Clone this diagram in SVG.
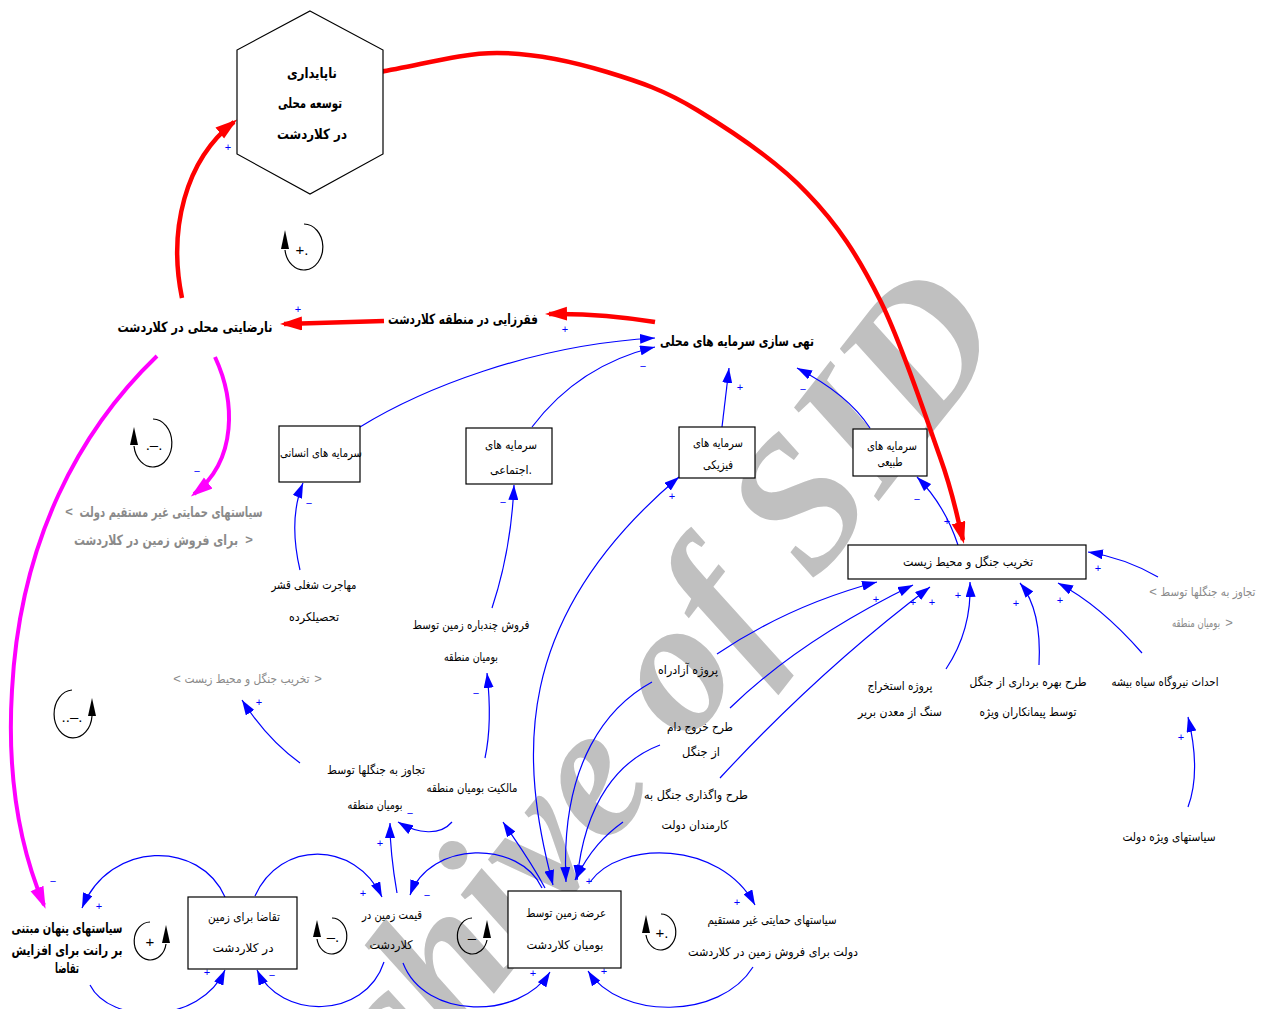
<svg xmlns="http://www.w3.org/2000/svg" width="1262" height="1009" viewBox="0 0 1262 1009">
<style>
.t{font-family:"DejaVu Sans",sans-serif;font-size:12px;fill:#000;text-anchor:middle;dominant-baseline:central}
.b{font-weight:bold;font-size:14px}
.g{fill:#8a8a8a}
.br{font-family:"Liberation Sans",sans-serif;font-size:13px;fill:#8a8a8a;text-anchor:middle;dominant-baseline:central}
.pol{font-family:"Liberation Sans",sans-serif;font-size:11px;fill:#00f;text-anchor:middle;dominant-baseline:central}
.blue{fill:none;stroke:#00f;stroke-width:1.2}
.red{fill:none;stroke:#f00;stroke-width:4.5}
.mag{fill:none;stroke:#f0f;stroke-width:4}
.box{fill:#fff;stroke:#000;stroke-width:1.2}
.loop{fill:none;stroke:#000;stroke-width:1.2}
.lt{font-family:"Liberation Sans",sans-serif;font-size:15px;fill:#000;text-anchor:middle;dominant-baseline:central}
.wm{font-family:"Liberation Serif",serif;font-style:italic;font-weight:bold;font-size:190px;fill:#c0c0c0}
</style>
<defs>
<marker id="ab" markerWidth="16" markerHeight="10" refX="15" refY="5" orient="auto" markerUnits="userSpaceOnUse"><path d="M0,0 L15,5 L0,10 z" fill="#00f"/></marker>
<marker id="abs" markerWidth="16" markerHeight="10" refX="15" refY="5" orient="auto-start-reverse" markerUnits="userSpaceOnUse"><path d="M0,0 L15,5 L0,10 z" fill="#00f"/></marker>
<marker id="ar" markerWidth="23" markerHeight="15" refX="18" refY="7" orient="auto" markerUnits="userSpaceOnUse"><path d="M0,0 L22,7 L0,14 z" fill="#f00"/></marker>
<marker id="am" markerWidth="23" markerHeight="15" refX="18" refY="7" orient="auto" markerUnits="userSpaceOnUse"><path d="M0,0 L22,7 L0,14 z" fill="#f0f"/></marker>
</defs>
<rect width="1262" height="1009" fill="#fff"/>
<text class="wm" transform="translate(282,1265) rotate(-52)">Archive of SID</text>

<g id="connectors">
<path class="red" marker-end="url(#ar)" d="M379,72 C418,66 459,53 497,53 C535,53 574,62 607,72 C640,82 664,90 697,110 C730,130 777,161 807,193 C838,225 858,256 880,300 C902,344 926,418 940,457 C954,496 956,513 963,540"/>
<path class="red" marker-end="url(#ar)" d="M182,298 C168,230 185,160 234,122"/>
<path class="red" marker-end="url(#ar)" d="M384,321 L284,324"/>
<path class="red" marker-end="url(#ar)" d="M655,322 Q600,313 549,314"/>
<path class="mag" marker-end="url(#am)" d="M215,357 C235,400 238,460 194,494"/>
<path class="mag" marker-end="url(#am)" d="M157,356 C80,430 20,540 12,690 C6,790 25,860 44,905"/>
<path class="blue" marker-end="url(#ab)" d="M360,427 C420,390 530,345 655,338"/>
<path class="blue" marker-end="url(#ab)" d="M532,427 C560,390 600,360 655,347"/>
<path class="blue" marker-end="url(#ab)" d="M722,427 L729,368"/>
<path class="blue" marker-end="url(#ab)" d="M870,428 C855,405 830,385 797,368"/>
<path class="blue" marker-end="url(#ab)" d="M958,545 C948,515 935,495 917,477"/>
<path class="blue" marker-end="url(#ab)" d="M300,570 C293,540 292,510 303,483"/>
<path class="blue" marker-end="url(#ab)" d="M492,608 C503,575 512,530 514,485"/>
<path class="blue" marker-end="url(#ab)" d="M485,758 C491,730 490,700 487,673"/>
<path class="blue" marker-end="url(#ab)" d="M300,763 C275,745 258,725 242,700"/>
<path class="blue" marker-end="url(#ab)" d="M452,822 C440,836 418,834 398,822"/>
<path class="blue" marker-end="url(#ab)" d="M397,893 C393,870 390,845 390,823"/>
<path class="blue" marker-end="url(#ab)" d="M545,888 C530,860 515,840 503,822"/>
<path class="blue" marker-start="url(#abs)" marker-end="url(#ab)" d="M553,885 C520,760 510,620 679,477"/>
<path class="blue" marker-end="url(#ab)" d="M652,682 C610,705 560,760 566,882"/>
<path class="blue" marker-end="url(#ab)" d="M660,745 C620,760 585,800 577,880"/>
<path class="blue" marker-end="url(#ab)" d="M623,822 C605,835 590,850 575,880"/>
<path class="blue" marker-end="url(#ab)" d="M717,654 Q790,605 877,582"/>
<path class="blue" marker-end="url(#ab)" d="M730,708 Q800,640 913,585"/>
<path class="blue" marker-end="url(#ab)" d="M720,778 Q820,670 930,587"/>
<path class="blue" marker-end="url(#ab)" d="M946,669 Q972,630 970,582"/>
<path class="blue" marker-end="url(#ab)" d="M1039,665 Q1042,610 1020,583"/>
<path class="blue" marker-end="url(#ab)" d="M1142,653 Q1100,605 1058,583"/>
<path class="blue" marker-end="url(#ab)" d="M1158,577 Q1125,558 1088,552"/>
<path class="blue" marker-end="url(#ab)" d="M1188,807 C1198,780 1196,750 1188,717"/>
<path class="blue" marker-end="url(#ab)" d="M225,897 C200,840 110,840 82,908"/>
<path class="blue" marker-end="url(#ab)" d="M255,896 C280,840 355,840 382,897"/>
<path class="blue" marker-end="url(#ab)" d="M542,888 C520,840 430,840 410,895"/>
<path class="blue" marker-end="url(#ab)" d="M90,985 C110,1025 200,1025 225,970"/>
<path class="blue" marker-end="url(#ab)" d="M384,962 C365,1020 280,1020 257,970"/>
<path class="blue" marker-end="url(#ab)" d="M403,963 C425,1020 520,1020 550,972"/>
<path class="blue" marker-end="url(#ab)" d="M753,967 C720,1020 620,1020 588,971"/>
<path class="blue" marker-end="url(#ab)" d="M590,882 C620,840 720,840 755,905"/>
</g>

<g id="polarities">
<text class="pol" x="228" y="147">+</text>
<text class="pol" x="298" y="309">+</text>
<text class="pol" x="565" y="329">+</text>
<text class="pol" x="197" y="471">−</text>
<text class="pol" x="53" y="881">−</text>
<text class="pol" x="643" y="366">−</text>
<text class="pol" x="740" y="387">+</text>
<text class="pol" x="803" y="389">−</text>
<text class="pol" x="917" y="499">−</text>
<text class="pol" x="947" y="521">+</text>
<text class="pol" x="309" y="503">−</text>
<text class="pol" x="503" y="502">−</text>
<text class="pol" x="672" y="496">+</text>
<text class="pol" x="476" y="693">−</text>
<text class="pol" x="259" y="702">+</text>
<text class="pol" x="410" y="813">−</text>
<text class="pol" x="380" y="843">+</text>
<text class="pol" x="876" y="599">+</text>
<text class="pol" x="913" y="602">+</text>
<text class="pol" x="932" y="602">+</text>
<text class="pol" x="958" y="595">+</text>
<text class="pol" x="1016" y="603">+</text>
<text class="pol" x="1060" y="600">+</text>
<text class="pol" x="1098" y="568">+</text>
<text class="pol" x="1181" y="737">+</text>
<text class="pol" x="99" y="906">+</text>
<text class="pol" x="363" y="893">+</text>
<text class="pol" x="427" y="895">−</text>
<text class="pol" x="207" y="972">+</text>
<text class="pol" x="272" y="975">−</text>
<text class="pol" x="533" y="973">+</text>
<text class="pol" x="604" y="971">+</text>
<text class="pol" x="737" y="902">+</text>
<text class="pol" x="589" y="881">+</text>
<text class="pol" x="566" y="869">+</text>
</g>

<g id="loops">
<g id="loop1"><path class="loop" d="M304,224 A19,23 0 1 1 285,250"/><path d="M285,230 L281,249 L289,249 z"/><text class="lt" x="302" y="249">+.</text></g>
<g id="loop2"><path class="loop" d="M153,419 A19,24 0 1 1 134,446"/><path d="M134,427 L130,445 L138,445 z"/><text class="lt" x="154" y="444">.–.</text></g>
<g id="loop3"><path class="loop" d="M72,690 A19,24 0 1 0 92,716"/><path d="M92,698 L88,716 L96,716 z"/><text class="lt" x="72" y="716">..–.</text></g>
<g id="loop4"><path class="loop" d="M150,922 A16,19 0 1 0 166,944"/><path d="M166,925 L162,943 L170,943 z"/><text class="lt" x="150" y="941">+</text></g>
<g id="loop5"><path class="loop" d="M332,918 A15,18 0 1 1 317,939"/><path d="M317,920 L313,937 L321,937 z"/><text class="lt" x="333" y="936">–.</text></g>
<g id="loop6"><path class="loop" d="M472,918 A15,18 0 1 0 487,940"/><path d="M487,920 L483,938 L491,938 z"/><text class="lt" x="472" y="937">–</text></g>
<g id="loop7"><path class="loop" d="M661,914 A15,18 0 1 1 646,935"/><path d="M646,915 L642,933 L650,933 z"/><text class="lt" x="662" y="932">+.</text></g>
</g>

<g id="n-hex"><polygon class="box" points="310,11 383,50 383,154 310,194 237,154 237,50"/>
<text class="t b" x="312" y="73" textLength="50" lengthAdjust="spacingAndGlyphs">ناپایداری</text><text class="t b" x="310" y="103" textLength="64" lengthAdjust="spacingAndGlyphs">توسعه محلی</text><text class="t b" x="312" y="134" textLength="70" lengthAdjust="spacingAndGlyphs">در کلاردشت</text></g>
<g id="n-narezayati"><text class="t b" x="195" y="327" textLength="155" lengthAdjust="spacingAndGlyphs">نارضایتی محلی در کلاردشت</text></g>
<g id="n-faghr"><text class="t b" x="463" y="319" textLength="150" lengthAdjust="spacingAndGlyphs">فقرزایی در منطقه کلاردشت</text></g>
<g id="n-tohi"><text class="t b" x="737" y="341" textLength="154" lengthAdjust="spacingAndGlyphs">تهی سازی سرمایه های محلی</text></g>
<g id="n-ensani"><rect class="box" x="279" y="426" width="81" height="56"/><text class="t" x="321" y="453" textLength="82" lengthAdjust="spacingAndGlyphs">سرمایه های انسانی</text></g>
<g id="n-ejtemai"><rect class="box" x="466" y="428" width="86" height="56"/><text class="t" x="511" y="445" textLength="52" lengthAdjust="spacingAndGlyphs">سرمایه های</text><text class="t" x="511" y="470" textLength="42" lengthAdjust="spacingAndGlyphs">اجتماعی.</text></g>
<g id="n-fiziki"><rect class="box" x="679" y="427" width="76" height="51"/><text class="t" x="718" y="443" textLength="50" lengthAdjust="spacingAndGlyphs">سرمایه های</text><text class="t" x="718" y="465" textLength="30" lengthAdjust="spacingAndGlyphs">فیزیکی</text></g>
<g id="n-tabiei"><rect class="box" x="853" y="429" width="74" height="47"/><text class="t" x="892" y="446" textLength="50" lengthAdjust="spacingAndGlyphs">سرمایه های</text><text class="t" x="890" y="462" textLength="25" lengthAdjust="spacingAndGlyphs">طبیعی</text></g>
<g id="n-takhrib"><rect class="box" x="848" y="545" width="238" height="34"/><text class="t" x="968" y="562" textLength="130" lengthAdjust="spacingAndGlyphs">تخریب جنگل و محیط زیست</text></g>
<g id="n-hemayati-g"><text class="br" x="69" y="511" font-weight="bold">&lt;</text><text class="t b g" x="171" y="512" textLength="183" lengthAdjust="spacingAndGlyphs">سیاستهای حمایتی غیر مستقیم دولت</text><text class="t b g" x="156" y="540" textLength="164" lengthAdjust="spacingAndGlyphs">برای فروش زمین در کلاردشت</text><text class="br" x="249" y="539" font-weight="bold">&gt;</text></g>
<g id="n-mohajerat"><text class="t" x="314" y="585" textLength="85" lengthAdjust="spacingAndGlyphs">مهاجرت شغلی قشر</text><text class="t" x="314" y="617" textLength="50" lengthAdjust="spacingAndGlyphs">تحصیلکرده</text></g>
<g id="n-forush"><text class="t" x="471" y="625" textLength="117" lengthAdjust="spacingAndGlyphs">فروش چندباره زمین توسط</text><text class="t" x="471" y="657" textLength="54" lengthAdjust="spacingAndGlyphs">بومیان منطقه</text></g>
<g id="n-takhrib-g"><text class="br" x="177" y="678">&lt;</text><text class="t g" x="247" y="679" textLength="125" lengthAdjust="spacingAndGlyphs">تخریب جنگل و محیط زیست</text><text class="br" x="318" y="678">&gt;</text></g>
<g id="n-tajavoz-g"><text class="br" x="1153" y="591">&lt;</text><text class="t g" x="1208" y="592" textLength="95" lengthAdjust="spacingAndGlyphs">تجاوز به جنگلها توسط</text><text class="t g" x="1196" y="623" textLength="48" lengthAdjust="spacingAndGlyphs">بومیان منطقه</text><text class="br" x="1229" y="622">&gt;</text></g>
<g id="n-azadrah"><text class="t" x="688" y="670" textLength="60" lengthAdjust="spacingAndGlyphs">پروژه آزادراه</text></g>
<g id="n-dam"><text class="t" x="700" y="727" textLength="66" lengthAdjust="spacingAndGlyphs">طرح خروج دام</text><text class="t" x="701" y="752" textLength="38" lengthAdjust="spacingAndGlyphs">از جنگل</text></g>
<g id="n-vagozari"><text class="t" x="696" y="795" textLength="104" lengthAdjust="spacingAndGlyphs">طرح واگذاری جنگل به</text><text class="t" x="695" y="825" textLength="67" lengthAdjust="spacingAndGlyphs">کارمندان دولت</text></g>
<g id="n-estekhraj"><text class="t" x="900" y="686" textLength="65" lengthAdjust="spacingAndGlyphs">پروژه استخراج</text><text class="t" x="900" y="712" textLength="84" lengthAdjust="spacingAndGlyphs">سنگ از معدن بریر</text></g>
<g id="n-bahrebardari"><text class="t" x="1028" y="682" textLength="117" lengthAdjust="spacingAndGlyphs">طرح بهره برداری از جنگل</text><text class="t" x="1028" y="712" textLength="97" lengthAdjust="spacingAndGlyphs">توسط پیمانکاران ویژه</text></g>
<g id="n-nirogah"><text class="t" x="1165" y="682" textLength="107" lengthAdjust="spacingAndGlyphs">احداث نیروگاه سیاه بیشه</text></g>
<g id="n-vizhe"><text class="t" x="1169" y="837" textLength="93" lengthAdjust="spacingAndGlyphs">سیاستهای ویژه دولت</text></g>
<g id="n-malekiat"><text class="t" x="472" y="788" textLength="91" lengthAdjust="spacingAndGlyphs">مالکیت بومیان منطقه</text></g>
<g id="n-tajavoz"><text class="t" x="376" y="770" textLength="98" lengthAdjust="spacingAndGlyphs">تجاوز به جنگلها توسط</text><text class="t" x="375" y="805" textLength="55" lengthAdjust="spacingAndGlyphs">بومیان منطقه</text></g>
<g id="n-penhan"><text class="t b" x="67" y="928" textLength="111" lengthAdjust="spacingAndGlyphs">سیاستهای پنهان مبتنی</text><text class="t b" x="67" y="950" textLength="111" lengthAdjust="spacingAndGlyphs">بر رانت برای افزایش</text><text class="t b" x="67" y="968" textLength="24" lengthAdjust="spacingAndGlyphs">تقاضا</text></g>
<g id="n-taghaza"><rect class="box" x="188" y="897" width="109" height="72"/><text class="t" x="244" y="917" textLength="72" lengthAdjust="spacingAndGlyphs">تقاضا برای زمین</text><text class="t" x="243" y="948" textLength="61" lengthAdjust="spacingAndGlyphs">در کلاردشت</text></g>
<g id="n-gheymat"><text class="t" x="392" y="915" textLength="60" lengthAdjust="spacingAndGlyphs">قیمت زمین در</text><text class="t" x="391" y="945" textLength="43" lengthAdjust="spacingAndGlyphs">کلاردشت</text></g>
<g id="n-arze"><rect class="box" x="508" y="891" width="113" height="77"/><text class="t" x="566" y="913" textLength="80" lengthAdjust="spacingAndGlyphs">عرضه زمین توسط</text><text class="t" x="565" y="945" textLength="77" lengthAdjust="spacingAndGlyphs">بومیان کلاردشت</text></g>
<g id="n-hemayati"><text class="t" x="772" y="920" textLength="129" lengthAdjust="spacingAndGlyphs">سیاستهای حمایتی غیر مستقیم</text><text class="t" x="773" y="952" textLength="170" lengthAdjust="spacingAndGlyphs">دولت برای فروش زمین در کلاردشت</text></g>
</svg>
